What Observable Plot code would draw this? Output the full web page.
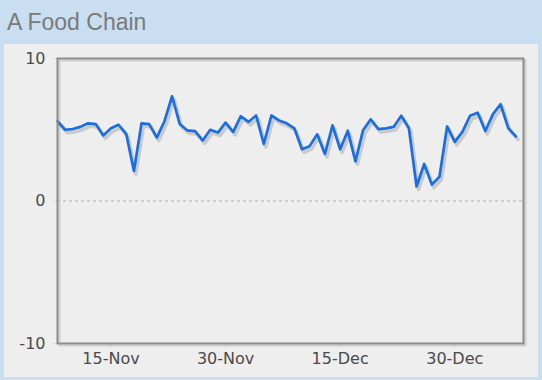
<!DOCTYPE html>
<html><head><meta charset="utf-8">
<script src="https://cdn.jsdelivr.net/npm/d3@7"></script>
<script src="https://cdn.jsdelivr.net/npm/@observablehq/plot@0.6"></script>
<style>
html,body{margin:0;padding:0;}
body{width:542px;height:380px;background:#c9def0;position:relative;overflow:hidden;font-family:"Liberation Sans",Arial,sans-serif;}
#title{position:absolute;left:7px;top:8px;font-size:23px;line-height:28px;color:#7a7a7a;}
#panel{position:absolute;left:4px;top:44px;width:534px;height:333px;background:#eeeeee;}
#panel svg{display:block;}
</style></head><body>
<div id="title">A Food Chain</div>
<div id="panel"></div>
<script>
const startDate = "2011-11-08";
const endDate = "2012-01-08";
const values = [
  5.6,5.0,5.05,5.2,5.45,5.4,4.6,5.1,5.35,4.7,
  2.1,5.45,5.4,4.45,5.6,7.35,5.4,4.95,4.9,4.25,
  5.0,4.8,5.5,
  4.85,5.95,5.55,6.0,4.0,6.0,5.65,5.45,5.1,3.63,
  3.85,4.68,3.3,5.31,3.63,4.93,2.78,4.97,5.73,5.05,
  5.1,5.2,5.98,5.1,1.02,2.6,1.15,1.7,5.23,4.15,4.85,
  5.98,6.2,4.91,6.1,6.79,5.12,4.53
];
const xTickDates = ["2011-11-15","2011-11-30","2011-12-15","2011-12-30"];
const yTicks = [-10, 0, 10];

const start = new Date(startDate);
const data = values.map((v, i) => ({date: d3.utcDay.offset(start, i), value: v}));

const chart = Plot.plot({
  width: 534,
  height: 333,
  marginLeft: 53,
  marginRight: 15,
  marginTop: 14,
  marginBottom: 34,
  style: {background: "transparent", fontFamily: "DejaVu Sans", fontSize: "16px", color: "#4a4a4a"},
  x: {type: "utc", domain: [new Date(startDate), new Date(endDate)]},
  y: {domain: [-10, 10]},
  marks: [
    Plot.frame({stroke: "#cfcfcf", strokeWidth: 2, dx: 2, dy: 2}),
    Plot.ruleY([0], {stroke: "#b0b0b0", strokeDasharray: "3,3"}),
    Plot.axisY({ticks: yTicks, tickFormat: d => String(d), tickSize: 4, tickPadding: 8, label: null, color: "#4a4a4a", stroke: "#bbb", strokeDasharray: "1,1", fontSize: 16}),
    Plot.axisX({ticks: xTickDates.map(d => new Date(d)), tickFormat: d3.utcFormat("%d-%b"), tickSize: 3, tickPadding: 6, label: null, color: "#4a4a4a", stroke: "#bbb", fontSize: 16}),
    Plot.lineY(data, {x: "date", y: "value", stroke: "#000", strokeOpacity: 0.15, strokeWidth: 3.5, dx: 2, dy: 3}),
    Plot.lineY(data, {x: "date", y: "value", stroke: "#1a6ee2", strokeWidth: 2.7}),
    Plot.frame({stroke: "#8c8c8c", strokeWidth: 2})
  ]
});
document.getElementById("panel").appendChild(chart);
</script>
</body></html>
